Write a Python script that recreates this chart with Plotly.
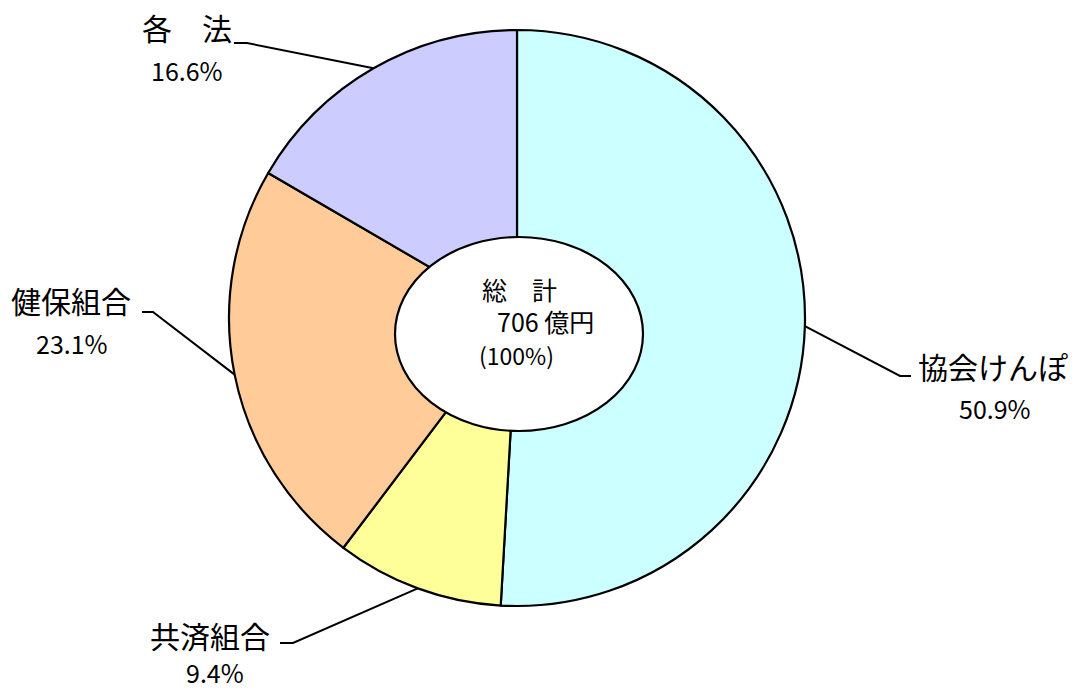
import math
import plotly.graph_objects as go

# data
categories = ["協会けんぽ", "共済組合", "健保組合", "各　法"]
shares = [50.9, 9.4, 23.1, 16.6]
pct_labels = ["50.9%", "9.4%", "23.1%", "16.6%"]
colors = ["#CCFFFF", "#FFFF99", "#FFCC99", "#CCCCFF"]
center_lines = ["総　計", "706 億円", "(100%)"]

W, H = 1083, 690
CX, CY, R = 517, 318, 288  # pie centre / radius in pixels

def px(x):
    return x / W

def py(y):
    return 1 - y / H

fig = go.Figure(go.Pie(
    values=shares,
    labels=categories,
    sort=False,
    direction="clockwise",
    rotation=0,
    textinfo="none",
    hoverinfo="label+percent",
    marker=dict(colors=colors, line=dict(color="black", width=2.2)),
    domain=dict(x=[px(CX - R), px(CX + R)], y=[py(CY + R), py(CY - R)]),
    showlegend=False,
))

# label placement (elbow end, horizontal end, name centre, pct centre)
label_pos = [
    dict(elbow=(900, 376), end=(911, 376), name=(993, 366), pct=(995, 408)),
    dict(elbow=(293, 643), end=(280, 643), name=(210, 635), pct=(215, 672)),
    dict(elbow=(153, 312), end=(142, 312), name=(71, 300), pct=(72, 343)),
    dict(elbow=(247, 43), end=(234, 43), name=(187, 27), pct=(187, 70)),
]

jp_font = "Noto Sans CJK JP"
num_font = "Noto Sans CJK JP"

shapes = []
annotations = []
total = sum(shares)
cum = 0.0
for i, v in enumerate(shares):
    mid = (cum + v / 2) / total * 2 * math.pi
    cum += v
    sx = CX + R * math.sin(mid)
    sy = CY - R * math.cos(mid)
    lp = label_pos[i]
    path = "M {},{} L {},{} L {},{}".format(
        px(sx), py(sy), px(lp["elbow"][0]), py(lp["elbow"][1]),
        px(lp["end"][0]), py(lp["end"][1]))
    shapes.append(dict(type="path", xref="paper", yref="paper", path=path,
                       line=dict(color="black", width=2)))
    annotations.append(dict(xref="paper", yref="paper",
                            x=px(lp["name"][0]), y=py(lp["name"][1]),
                            text=categories[i], showarrow=False,
                            xanchor="center", yanchor="middle", borderpad=0,
                            font=dict(family=jp_font, size=30, color="black")))
    annotations.append(dict(xref="paper", yref="paper",
                            x=px(lp["pct"][0]), y=py(lp["pct"][1]),
                            text=pct_labels[i], showarrow=False,
                            xanchor="center", yanchor="middle", borderpad=0,
                            font=dict(family=num_font, size=25, color="black")))

# centre ellipse (hole)
shapes.append(dict(type="circle", xref="paper", yref="paper", layer="above",
                   x0=px(395), x1=px(643), y0=py(431), y1=py(237),
                   fillcolor="white", line=dict(color="black", width=2.2)))

center_pos = [(480, 289), (495, 321), (477, 355)]
center_sizes = [25, 25, 23]
for t, (x, y), s in zip(center_lines, center_pos, center_sizes):
    annotations.append(dict(xref="paper", yref="paper", x=px(x), y=py(y),
                            text=t, showarrow=False, xanchor="left",
                            yanchor="middle",
                            font=dict(family=num_font, size=s, color="black")))

fig.update_layout(
    width=W, height=H,
    margin=dict(l=0, r=0, t=0, b=0),
    paper_bgcolor="white", plot_bgcolor="white",
    shapes=shapes, annotations=annotations,
)

fig.write_html("out.html", config={"displayModeBar": False},
               post_script="document.body.style.margin='0';")
